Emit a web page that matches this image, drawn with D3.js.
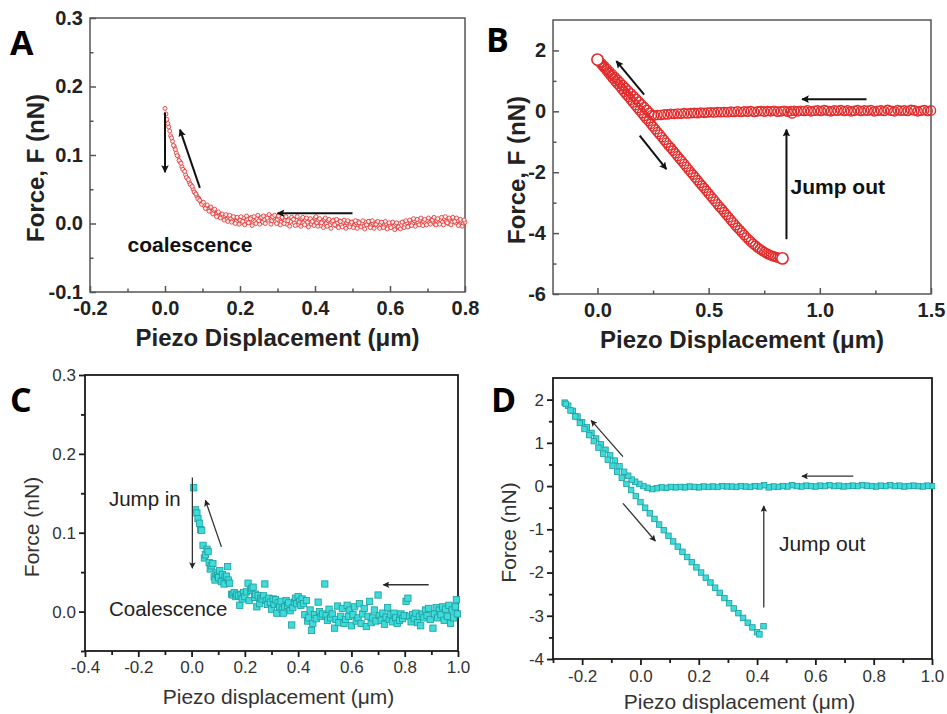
<!DOCTYPE html>
<html>
<head>
<meta charset="utf-8">
<script src="https://cdn.jsdelivr.net/npm/d3@7"></script>
<style>
body { margin: 0; background: #fff; }
svg { display: block; }
</style>
</head>
<body>
<svg id="chart" width="947" height="714"></svg>
<script>
// ---- panel A: approach curve (red circles), [displacement um, force nN]
const curveA = [
[0.000,0.168],[0.005,0.152],[0.010,0.141],[0.015,0.128],[0.020,0.120],[0.025,0.112],[0.030,0.103],[0.035,0.098],
[0.040,0.090],[0.045,0.083],[0.050,0.078],[0.055,0.071],[0.060,0.066],[0.065,0.060],[0.070,0.056],[0.075,0.050],
[0.080,0.045],[0.085,0.040],[0.090,0.037],[0.095,0.032],[0.100,0.030],[0.105,0.026],[0.110,0.024],[0.115,0.021],
[0.120,0.022],[0.125,0.017],[0.130,0.019],[0.135,0.014],[0.140,0.015],[0.145,0.011],[0.150,0.013],[0.155,0.009],
[0.160,0.011],[0.165,0.006],[0.170,0.010],[0.175,0.007],[0.180,0.004],[0.185,0.009],[0.190,0.003],[0.195,0.007],
[0.200,0.005],[0.205,0.001],[0.210,0.008],[0.215,0.004],[0.220,0.006],[0.225,0.002],[0.230,0.009],[0.235,0.005],
[0.240,0.003],[0.245,0.007],[0.250,0.004],[0.255,0.008],[0.260,0.002],[0.265,0.006],[0.270,0.010],[0.275,0.005],
[0.280,0.011],[0.285,0.004],[0.290,0.008],[0.295,0.003],[0.300,0.006],[0.305,0.009],[0.310,0.002],[0.315,0.007],
[0.320,0.004],[0.325,-0.001],[0.330,0.006],[0.335,0.003],[0.340,0.008],[0.345,0.001],[0.350,0.005],[0.355,-0.002],
[0.360,0.004],[0.365,0.007],[0.370,0.001],[0.375,0.005],[0.380,0.002],[0.385,0.006],[0.390,-0.001],[0.395,0.004],
[0.400,0.008],[0.405,0.001],[0.410,0.005],[0.415,-0.003],[0.420,0.003],[0.425,0.006],[0.430,0.000],[0.435,0.004],
[0.440,-0.002],[0.445,0.002],[0.450,0.005],[0.455,-0.003],[0.460,0.001],[0.465,0.004],[0.470,-0.002],[0.475,0.002],
[0.480,-0.004],[0.485,0.001],[0.490,0.003],[0.495,-0.001],[0.500,0.002],[0.505,-0.003],[0.510,0.001],[0.515,0.003],
[0.520,-0.002],[0.525,0.000],[0.530,-0.004],[0.535,0.002],[0.540,-0.001],[0.545,0.003],[0.550,-0.003],[0.555,0.000],
[0.560,-0.002],[0.565,0.002],[0.570,-0.004],[0.575,-0.001],[0.580,0.001],[0.585,-0.003],[0.590,0.000],[0.595,-0.005],
[0.600,-0.002],[0.605,0.001],[0.610,-0.004],[0.615,-0.001],[0.620,-0.006],[0.625,0.000],[0.630,-0.003],[0.635,0.002],
[0.640,-0.002],[0.645,0.001],[0.650,-0.004],[0.655,0.003],[0.660,0.000],[0.665,0.004],[0.670,-0.002],[0.675,0.002],
[0.680,0.005],[0.685,-0.001],[0.690,0.003],[0.695,0.000],[0.700,0.004],[0.705,0.001],[0.710,0.006],[0.715,0.002],
[0.720,-0.001],[0.725,0.004],[0.730,0.001],[0.735,0.005],[0.740,0.002],[0.745,0.007],[0.750,0.003],[0.755,0.000],
[0.760,0.005],[0.765,0.002],[0.770,0.006],[0.775,0.001],[0.780,0.004],[0.785,-0.001],[0.790,0.003],[0.795,0.000],
[0.800,0.002]
];
// in-between samples of the same sweep
const curveAmid = [
[0.0025,0.160],[0.0075,0.146],[0.0125,0.135],[0.0175,0.125],[0.0225,0.114],[0.0275,0.108],[0.0325,0.099],[0.0375,0.092],
[0.0425,0.088],[0.0475,0.079],[0.0525,0.076],[0.0575,0.067],[0.0625,0.064],[0.0675,0.057],[0.0725,0.054],[0.0775,0.046],
[0.0825,0.043],[0.0875,0.036],[0.0925,0.034],[0.0975,0.028],[0.1025,0.031],[0.1075,0.022],[0.1125,0.027],[0.1175,0.018],
[0.1225,0.024],[0.1275,0.014],[0.1325,0.021],[0.1375,0.010],[0.1425,0.017],[0.1475,0.008],[0.1525,0.014],[0.1575,0.005],
[0.1625,0.013],[0.1675,0.003],[0.1725,0.012],[0.1775,0.002],[0.1825,0.010],[0.1875,0.000],[0.1925,0.009],[0.1975,-0.001],
[0.2025,0.010],[0.2075,0.003],[0.2125,-0.002],[0.2175,0.011],[0.2225,0.001],[0.2275,0.007],[0.2325,-0.003],[0.2375,0.010],
[0.2425,0.000],[0.2475,0.012],[0.2525,-0.001],[0.2575,0.009],[0.2625,0.011],[0.2675,0.000],[0.2725,0.008],[0.2775,0.013],
[0.2825,-0.001],[0.2875,0.010],[0.2925,0.012],[0.2975,0.000],[0.3025,0.011],[0.3075,-0.002],[0.3125,0.009],[0.3175,0.000],
[0.3225,0.010],[0.3275,0.004],[0.3325,-0.004],[0.3375,0.009],[0.3425,0.006],[0.3475,-0.003],[0.3525,0.010],[0.3575,0.002],
[0.3625,-0.004],[0.3675,0.009],[0.3725,-0.002],[0.3775,0.008],[0.3825,-0.005],[0.3875,0.007],[0.3925,0.003],[0.3975,-0.003],
[0.4025,0.010],[0.4075,-0.004],[0.4125,0.007],[0.4175,0.001],[0.4225,-0.006],[0.4275,0.008],[0.4325,-0.004],[0.4375,0.006],
[0.4425,-0.007],[0.4475,0.004],[0.4525,-0.002],[0.4575,0.006],[0.4625,-0.006],[0.4675,0.003],[0.4725,-0.005],[0.4775,0.005],
[0.4825,-0.007],[0.4875,0.004],[0.4925,-0.005],[0.4975,0.002],[0.5025,-0.006],[0.5075,0.004],[0.5125,-0.007],[0.5175,0.001],
[0.5225,-0.005],[0.5275,0.004],[0.5325,-0.008],[0.5375,-0.002],[0.5425,0.003],[0.5475,-0.006],[0.5525,0.004],[0.5575,-0.007],
[0.5625,-0.001],[0.5675,0.003],[0.5725,-0.007],[0.5775,0.002],[0.5825,-0.006],[0.5875,0.003],[0.5925,-0.008],[0.5975,0.001],
[0.6025,-0.006],[0.6075,0.002],[0.6125,-0.009],[0.6175,0.001],[0.6225,-0.005],[0.6275,-0.008],[0.6325,0.002],[0.6375,-0.006],
[0.6425,0.004],[0.6475,-0.005],[0.6525,0.005],[0.6575,-0.003],[0.6625,0.007],[0.6675,-0.004],[0.6725,0.006],[0.6775,-0.002],
[0.6825,0.008],[0.6875,-0.003],[0.6925,0.006],[0.6975,-0.002],[0.7025,0.008],[0.7075,-0.001],[0.7125,0.005],[0.7175,0.009],
[0.7225,-0.002],[0.7275,0.007],[0.7325,-0.001],[0.7375,0.009],[0.7425,-0.002],[0.7475,0.010],[0.7525,0.001],[0.7575,0.008],
[0.7625,-0.002],[0.7675,0.009],[0.7725,0.003],[0.7775,0.008],[0.7825,-0.003],[0.7875,0.006],[0.7925,-0.004],[0.7975,0.005]
];

// ---- panel B: approach, loading and retraction branches
const approachB = [
[1.500,0.03],[1.485,0.01],[1.470,0.04],[1.455,0.02],[1.440,0.00],[1.425,0.03],[1.410,0.05],[1.395,0.01],
[1.380,0.03],[1.365,0.02],[1.350,0.04],[1.335,0.00],[1.320,0.02],[1.305,0.05],[1.290,0.01],[1.275,0.03],
[1.260,0.02],[1.245,0.00],[1.230,0.04],[1.215,0.02],[1.200,0.03],[1.185,0.01],[1.170,0.04],[1.155,0.02],
[1.140,0.00],[1.125,0.03],[1.110,0.01],[1.095,0.04],[1.080,0.02],[1.065,0.03],[1.050,0.00],[1.035,0.02],
[1.020,0.04],[1.005,0.01],[0.990,0.03],[0.975,0.02],[0.960,0.00],[0.945,0.03],[0.930,0.01],[0.915,0.02],
[0.900,0.00],[0.885,0.02],[0.875,-0.07],[0.870,0.01],[0.855,-0.01],[0.840,0.02],[0.825,0.00],[0.810,-0.01],
[0.795,0.02],[0.780,0.00],[0.765,0.01],[0.750,-0.01],[0.735,0.01],[0.720,0.00],[0.705,-0.02],[0.690,0.01],
[0.675,-0.01],[0.660,0.00],[0.645,-0.02],[0.630,0.00],[0.615,-0.02],[0.600,-0.01],[0.585,-0.03],[0.570,-0.02],
[0.555,-0.03],[0.540,-0.02],[0.525,-0.04],[0.510,-0.03],[0.495,-0.04],[0.480,-0.05],[0.465,-0.04],[0.450,-0.06],
[0.435,-0.05],[0.420,-0.06],[0.405,-0.07],[0.390,-0.06],[0.375,-0.08],[0.360,-0.07],[0.345,-0.09],[0.330,-0.08],
[0.315,-0.10],[0.300,-0.10],[0.285,-0.12],[0.270,-0.12],[0.255,-0.14],[0.245,-0.12]
];
const loadB = [
[0.234,-0.04],[0.222,0.05],[0.210,0.14],[0.198,0.23],[0.186,0.32],[0.174,0.41],[0.162,0.50],[0.150,0.59],
[0.138,0.68],[0.126,0.77],[0.114,0.86],[0.102,0.95],[0.090,1.04],[0.078,1.13],[0.066,1.22],[0.054,1.31],
[0.042,1.40],[0.030,1.49],[0.018,1.58],[0.006,1.67]
];
const retractB = [
[0.00,1.70],[0.01,1.61],[0.02,1.52],[0.03,1.44],[0.04,1.35],[0.05,1.26],[0.06,1.17],[0.07,1.08],
[0.08,0.99],[0.09,0.91],[0.10,0.82],[0.11,0.73],[0.12,0.64],[0.13,0.55],[0.14,0.47],[0.15,0.38],
[0.16,0.29],[0.17,0.20],[0.18,0.11],[0.19,0.03],[0.20,-0.06],[0.21,-0.15],[0.22,-0.24],[0.23,-0.32],
[0.24,-0.41],[0.25,-0.50],[0.26,-0.59],[0.27,-0.68],[0.28,-0.76],[0.29,-0.85],[0.30,-0.94],[0.31,-1.03],
[0.32,-1.12],[0.33,-1.20],[0.34,-1.29],[0.35,-1.38],[0.36,-1.47],[0.37,-1.56],[0.38,-1.64],[0.39,-1.73],
[0.40,-1.82],[0.41,-1.91],[0.42,-2.00],[0.43,-2.08],[0.44,-2.17],[0.45,-2.26],[0.46,-2.35],[0.47,-2.44],
[0.48,-2.52],[0.49,-2.61],[0.50,-2.70],[0.51,-2.79],[0.52,-2.87],[0.53,-2.96],[0.54,-3.05],[0.55,-3.14],
[0.56,-3.22],[0.57,-3.31],[0.58,-3.40],[0.59,-3.48],[0.60,-3.57],[0.61,-3.65],[0.62,-3.74],[0.63,-3.82],
[0.64,-3.90],[0.65,-3.98],[0.66,-4.06],[0.67,-4.14],[0.68,-4.21],[0.69,-4.28],[0.70,-4.35],[0.71,-4.41],
[0.72,-4.47],[0.73,-4.52],[0.74,-4.57],[0.75,-4.62],[0.76,-4.66],[0.77,-4.70],[0.78,-4.73],[0.79,-4.76],
[0.80,-4.78],[0.81,-4.80],[0.82,-4.82],[0.832,-4.83]
];
// first and last points of the cycle, drawn a bit larger
const endsB = [[0.00,1.70],[0.832,-4.83]];

// ---- panel C: approach scatter (cyan squares)
const curveC = [
[0.008,0.157],[0.015,0.129],[0.020,0.125],[0.024,0.118],[0.030,0.112],[0.034,0.104],[0.038,0.103],[0.043,0.084],
[0.048,0.068],[0.052,0.072],[0.058,0.079],[0.062,0.076],[0.066,0.062],[0.070,0.054],[0.074,0.058],[0.080,0.061],
[0.085,0.044],[0.088,0.040],[0.092,0.049],[0.098,0.046],[0.102,0.043],[0.106,0.052],[0.112,0.038],[0.116,0.047],
[0.122,0.035],[0.126,0.044],[0.131,0.045],[0.135,0.057],[0.138,0.040],[0.143,0.036],[0.150,0.022],[0.155,0.021],
[0.160,0.024],[0.166,0.019],[0.170,0.022],[0.176,0.020],[0.181,0.008],[0.186,0.021],[0.190,0.016],[0.195,0.024],
[0.200,0.019],[0.206,0.025],[0.212,0.036],[0.216,0.014],[0.221,0.027],[0.226,0.029],[0.231,0.031],[0.236,0.018],
[0.240,0.022],[0.245,0.006],[0.250,0.020],[0.256,0.010],[0.260,0.017],[0.265,0.016],[0.270,0.020],[0.275,0.035],
[0.280,0.014],[0.285,0.009],[0.290,0.017],[0.296,0.012],[0.300,0.003],[0.306,0.016],[0.310,0.009],[0.315,0.015],
[0.320,-0.002],[0.325,0.011],[0.330,0.006],[0.336,0.013],[0.340,0.003],[0.344,-0.002],[0.350,0.006],[0.355,0.014],
[0.360,0.008],[0.365,0.011],[0.370,0.001],[0.376,-0.017],[0.380,0.005],[0.386,0.012],[0.390,0.017],[0.395,0.010],
[0.400,0.019],[0.405,0.013],[0.410,0.008],[0.415,0.016],[0.420,0.010],[0.425,-0.004],[0.431,0.014],[0.436,-0.012],
[0.440,-0.008],[0.445,0.002],[0.450,-0.024],[0.455,-0.015],[0.462,-0.004],[0.468,-0.009],[0.475,0.012],[0.480,0.000],
[0.486,-0.006],[0.492,-0.003],[0.500,0.035],[0.505,-0.005],[0.510,-0.011],[0.516,0.003],[0.522,-0.008],[0.528,-0.003],
[0.537,-0.021],[0.542,-0.010],[0.548,0.007],[0.553,-0.014],[0.560,-0.006],[0.566,0.004],[0.572,-0.015],[0.578,-0.010],
[0.584,0.008],[0.590,-0.006],[0.594,0.002],[0.600,-0.018],[0.606,-0.004],[0.612,0.006],[0.618,-0.012],[0.625,-0.008],
[0.630,0.010],[0.636,-0.015],[0.642,-0.003],[0.648,0.004],[0.656,-0.019],[0.662,-0.006],[0.668,0.013],[0.674,-0.014],
[0.680,-0.008],[0.686,0.002],[0.692,-0.012],[0.700,0.021],[0.705,-0.005],[0.712,-0.011],[0.718,-0.002],[0.724,-0.016],
[0.730,-0.007],[0.736,0.005],[0.742,-0.010],[0.748,-0.004],[0.754,-0.013],[0.760,-0.002],[0.766,-0.008],[0.772,-0.015],
[0.781,-0.011],[0.786,-0.003],[0.792,-0.009],[0.798,-0.005],[0.805,0.013],[0.812,0.017],[0.818,-0.006],[0.824,-0.013],
[0.830,-0.004],[0.836,-0.009],[0.842,-0.002],[0.848,-0.014],[0.855,-0.006],[0.860,-0.018],[0.866,-0.003],[0.872,-0.008],
[0.878,0.002],[0.884,-0.005],[0.890,0.004],[0.896,-0.010],[0.906,-0.021],[0.912,-0.003],[0.918,0.005],[0.924,-0.008],
[0.930,0.002],[0.936,-0.004],[0.942,0.006],[0.948,-0.011],[0.954,0.003],[0.960,-0.006],[0.966,0.008],[0.972,-0.015],
[0.978,0.002],[0.984,-0.008],[0.990,0.006],[0.994,0.015],[0.998,-0.003]
];

// ---- panel D: approach, loading and retraction branches
const approachD = [
[1.000,0.00],[0.984,0.01],[0.968,-0.01],[0.952,0.00],[0.936,0.01],[0.920,0.00],[0.904,-0.01],[0.888,0.01],
[0.872,0.00],[0.856,0.02],[0.840,0.00],[0.824,0.01],[0.808,-0.01],[0.792,0.00],[0.776,0.01],[0.760,0.02],
[0.744,0.00],[0.728,0.01],[0.712,0.00],[0.696,-0.01],[0.680,0.01],[0.664,0.00],[0.648,0.02],[0.632,0.00],
[0.616,0.01],[0.600,-0.01],[0.584,0.00],[0.568,0.01],[0.552,-0.01],[0.536,0.00],[0.520,0.02],[0.504,-0.01],
[0.488,0.00],[0.472,-0.02],[0.456,-0.01],[0.440,-0.03],[0.424,0.02],[0.408,-0.01],[0.392,0.00],[0.376,-0.02],
[0.360,-0.01],[0.344,0.00],[0.328,-0.02],[0.312,-0.01],[0.296,-0.01],[0.280,0.00],[0.264,-0.02],[0.248,-0.01],
[0.232,-0.02],[0.216,-0.01],[0.200,-0.03],[0.184,-0.02],[0.168,-0.01],[0.152,-0.03],[0.136,-0.02],[0.120,-0.03],
[0.104,-0.02],[0.088,-0.04],[0.072,-0.03],[0.056,-0.05],[0.040,-0.07],[0.024,-0.04],[0.010,0.00]
];
const loadD = [
[-0.004,0.05],[-0.018,0.10],[-0.030,0.15],[-0.042,0.24],[-0.056,0.33],[-0.072,0.46],[-0.088,0.59],[-0.104,0.71],
[-0.120,0.84],[-0.136,0.97],[-0.152,1.10],[-0.168,1.23],[-0.184,1.36],[-0.200,1.48],[-0.216,1.61],[-0.232,1.74],
[-0.248,1.86],[-0.260,1.93]
];
const retractD = [
[-0.256,1.90],[-0.240,1.75],[-0.224,1.61],[-0.208,1.46],[-0.192,1.32],[-0.176,1.18],[-0.160,1.04],[-0.144,0.89],
[-0.128,0.75],[-0.112,0.61],[-0.096,0.47],[-0.080,0.33],[-0.064,0.19],[-0.048,0.05],[-0.032,-0.09],[-0.016,-0.23],
[0.000,-0.37],[0.016,-0.50],[0.032,-0.63],[0.048,-0.76],[0.064,-0.89],[0.080,-1.02],[0.096,-1.15],[0.112,-1.28],
[0.128,-1.40],[0.144,-1.52],[0.160,-1.64],[0.176,-1.76],[0.192,-1.88],[0.208,-2.00],[0.224,-2.12],[0.240,-2.23],
[0.256,-2.35],[0.272,-2.47],[0.288,-2.59],[0.304,-2.71],[0.320,-2.83],[0.336,-2.94],[0.352,-3.05],[0.368,-3.16],
[0.384,-3.27],[0.400,-3.38],[0.408,-3.43],[0.422,-3.24]
];

// ---- ticks
const ticksAx = [-0.2, 0.0, 0.2, 0.4, 0.6, 0.8];
const minorAx = [-0.1, 0.1, 0.3, 0.5, 0.7];
const ticksAy = [-0.1, 0.0, 0.1, 0.2, 0.3];
const minorAy = [-0.05, 0.05, 0.15, 0.25];
const ticksBx = [0.0, 0.5, 1.0, 1.5];
const minorBx = [0.25, 0.75, 1.25];
const ticksBy = [-6, -4, -2, 0, 2];
const minorBy = [-5, -3, -1, 1];
const ticksCx = [-0.4, -0.2, 0.0, 0.2, 0.4, 0.6, 0.8, 1.0];
const minorCx = [-0.3, -0.1, 0.1, 0.3, 0.5, 0.7, 0.9];
const ticksCy = [0.0, 0.1, 0.2, 0.3];
const minorCy = [-0.05, 0.05, 0.15, 0.25];
const ticksDx = [-0.2, 0.0, 0.2, 0.4, 0.6, 0.8, 1.0];
const minorDx = [-0.3, -0.1, 0.1, 0.3, 0.5, 0.7, 0.9];
const ticksDy = [-4, -3, -2, -1, 0, 1, 2];
const minorDy = [-3.5, -2.5, -1.5, -0.5, 0.5, 1.5];

const fmt1 = d => d.toFixed(1);
const fmt0 = d => d.toFixed(0);

const svg = d3.select("#chart");

const defs = svg.append("defs");
defs.append("marker").attr("id", "headBold")
    .attr("viewBox", "0 0 10 10").attr("refX", 9).attr("refY", 5)
    .attr("markerWidth", 5.5).attr("markerHeight", 3.8).attr("orient", "auto")
    .attr("markerUnits", "strokeWidth")
    .append("path").attr("d", "M0,0 L10,5 L0,10 L2,5 z").attr("fill", "#111");
defs.append("marker").attr("id", "headThin")
    .attr("viewBox", "0 0 10 10").attr("refX", 9).attr("refY", 5)
    .attr("markerWidth", 7).attr("markerHeight", 5).attr("orient", "auto")
    .attr("markerUnits", "strokeWidth")
    .append("path").attr("d", "M0,0 L10,5 L0,10 L2,5 z").attr("fill", "#222");

const font = "'Liberation Sans', Arial, sans-serif";

function drawPanel(p) {
    const x = d3.scaleLinear().domain(p.xDomain).range([p.box.left, p.box.right]);
    const y = d3.scaleLinear().domain(p.yDomain).range([p.box.bottom, p.box.top]);
    const g = svg.append("g");
    const major = p.inward ? -6 : 6;
    const minor = p.inward ? -3.5 : 4;
    const weight = p.bold ? "bold" : "normal";

    // frame
    g.append("rect")
        .attr("x", p.box.left).attr("y", p.box.top)
        .attr("width", p.box.right - p.box.left)
        .attr("height", p.box.bottom - p.box.top)
        .attr("fill", "none")
        .attr("stroke", p.frameColor)
        .attr("stroke-width", p.frameWidth);

    // data
    p.series.forEach(s => {
        const sg = g.append("g")
            .attr("fill", s.fill)
            .attr("stroke", s.stroke)
            .attr("stroke-width", s.strokeWidth);
        if (s.shape === "circle") {
            sg.selectAll("circle").data(s.data).join("circle")
                .attr("cx", d => x(d[0]))
                .attr("cy", d => y(d[1]))
                .attr("r", s.size);
        } else {
            sg.selectAll("rect").data(s.data).join("rect")
                .attr("x", d => x(d[0]) - s.size / 2)
                .attr("y", d => y(d[1]) - s.size / 2)
                .attr("width", s.size)
                .attr("height", s.size);
        }
    });

    const styleAxis = ax => {
        ax.select(".domain").remove();
        ax.selectAll(".tick line").attr("stroke", p.frameColor).attr("stroke-width", p.frameWidth);
        ax.selectAll(".tick text")
            .attr("font-family", font)
            .attr("font-size", p.tickFont)
            .attr("font-weight", weight)
            .attr("fill", p.textColor);
    };

    g.append("g")
        .attr("transform", `translate(0,${p.box.bottom})`)
        .call(d3.axisBottom(x).tickValues(p.xTicks).tickFormat(p.xFormat)
            .tickSize(major).tickPadding(p.xPad))
        .call(styleAxis);
    g.append("g")
        .attr("transform", `translate(0,${p.box.bottom})`)
        .call(d3.axisBottom(x).tickValues(p.xMinor).tickFormat("").tickSize(minor))
        .call(styleAxis);
    g.append("g")
        .attr("transform", `translate(${p.box.left},0)`)
        .call(d3.axisLeft(y).tickValues(p.yTicks).tickFormat(p.yFormat)
            .tickSize(major).tickPadding(p.yPad))
        .call(styleAxis);
    g.append("g")
        .attr("transform", `translate(${p.box.left},0)`)
        .call(d3.axisLeft(y).tickValues(p.yMinor).tickFormat("").tickSize(minor))
        .call(styleAxis);

    // axis titles
    g.append("text")
        .attr("x", (p.box.left + p.box.right) / 2 + p.xTitleDx)
        .attr("y", p.xTitleY)
        .attr("text-anchor", "middle")
        .attr("font-family", font)
        .attr("font-size", p.titleFont)
        .attr("font-weight", weight)
        .attr("fill", p.textColor)
        .text(p.xTitle);
    g.append("text")
        .attr("transform", `translate(${p.yTitleX},${(p.box.top + p.box.bottom) / 2 + p.yTitleDy}) rotate(-90)`)
        .attr("text-anchor", "middle")
        .attr("font-family", font)
        .attr("font-size", p.titleFont)
        .attr("font-weight", weight)
        .attr("fill", p.textColor)
        .text(p.yTitle);

    // panel letter
    g.append("text")
        .attr("x", p.letterX).attr("y", p.letterY)
        .attr("font-family", "'Open Sans', 'Liberation Sans', sans-serif")
        .attr("font-size", 34)
        .attr("font-weight", "bold")
        .attr("fill", "#000")
        .text(p.letter);

    // arrows, in data coordinates [x1, y1, x2, y2]
    p.arrows.forEach(a => {
        g.append("line")
            .attr("x1", x(a[0])).attr("y1", y(a[1]))
            .attr("x2", x(a[2])).attr("y2", y(a[3]))
            .attr("stroke", p.bold ? "#111" : "#333")
            .attr("stroke-width", p.bold ? 2 : 1.3)
            .attr("marker-end", p.bold ? "url(#headBold)" : "url(#headThin)");
    });

    // notes
    p.notes.forEach(n => {
        g.append("text")
            .attr("x", x(n.x)).attr("y", y(n.y))
            .attr("font-family", font)
            .attr("font-size", n.size)
            .attr("font-weight", weight)
            .attr("fill", p.bold ? "#111" : "#222")
            .text(n.text);
    });
}

const redRing = { shape: "circle", fill: "none", stroke: "#e32a2a" };
const cyanBox = { shape: "square", fill: "#3fdada", stroke: "#1b9e9e" };

drawPanel({
    letter: "A", letterX: 10, letterY: 55,
    box: { left: 90, right: 465, top: 18, bottom: 292 },
    xDomain: [-0.2, 0.8], yDomain: [-0.1, 0.3],
    xTicks: ticksAx, xMinor: minorAx, yTicks: ticksAy, yMinor: minorAy,
    xFormat: fmt1, yFormat: fmt1, inward: true, xPad: 9, yPad: 7,
    frameColor: "#555", frameWidth: 1.5, bold: true, textColor: "#222",
    tickFont: 20, titleFont: 24,
    xTitle: "Piezo Displacement (\u03bcm)", xTitleDx: 0, xTitleY: 346,
    yTitle: "Force, F (nN)", yTitleX: 44, yTitleDy: 13,
    series: [
        { ...redRing, fill: "#fdecec", strokeWidth: 0.8, size: 2, data: curveA },
        { ...redRing, fill: "#fdecec", strokeWidth: 0.8, size: 2, data: curveAmid }
    ],
    arrows: [[0.0, 0.162, 0.0, 0.075], [0.093, 0.052, 0.04, 0.137], [0.5, 0.015, 0.3, 0.015]],
    notes: [{ x: -0.1, y: -0.042, text: "coalescence", size: 21 }]
});

drawPanel({
    letter: "B", letterX: 486, letterY: 52,
    box: { left: 553, right: 931, top: 20, bottom: 294 },
    xDomain: [-0.2, 1.5], yDomain: [-6, 3],
    xTicks: ticksBx, xMinor: minorBx, yTicks: ticksBy, yMinor: minorBy,
    xFormat: fmt1, yFormat: fmt0, inward: true, xPad: 9, yPad: 7,
    frameColor: "#555", frameWidth: 1.5, bold: true, textColor: "#222",
    tickFont: 20, titleFont: 24,
    xTitle: "Piezo Displacement (\u03bcm)", xTitleDx: 0, xTitleY: 348,
    yTitle: "Force, F (nN)", yTitleX: 525, yTitleDy: 13,
    series: [
        { ...redRing, strokeWidth: 1.4, size: 4.6, data: approachB },
        { ...redRing, strokeWidth: 1.4, size: 4.6, data: loadB },
        { ...redRing, strokeWidth: 1.4, size: 4.6, data: retractB },
        { ...redRing, fill: "#fff", strokeWidth: 1.6, size: 5.6, data: endsB }
    ],
    arrows: [[0.21, 0.55, 0.085, 1.65], [0.19, -0.8, 0.31, -1.9], [1.21, 0.4, 0.92, 0.4], [0.85, -4.2, 0.85, -0.6]],
    notes: [{ x: 0.868, y: -2.7, text: "Jump out", size: 21 }]
});

drawPanel({
    letter: "C", letterX: 10, letterY: 412,
    box: { left: 85, right: 458, top: 375, bottom: 651 },
    xDomain: [-0.4, 1.0], yDomain: [-0.05, 0.3],
    xTicks: ticksCx, xMinor: minorCx, yTicks: ticksCy, yMinor: minorCy,
    xFormat: fmt1, yFormat: fmt1, inward: false, xPad: 4, yPad: 3,
    frameColor: "#1a1a1a", frameWidth: 1.8, bold: false, textColor: "#333",
    tickFont: 17, titleFont: 21,
    xTitle: "Piezo displacement (\u03bcm)", xTitleDx: 7, xTitleY: 704,
    yTitle: "Force (nN)", yTitleX: 39, yTitleDy: 14,
    series: [{ ...cyanBox, strokeWidth: 0.8, size: 6.3, data: curveC }],
    arrows: [[0.003, 0.17, 0.003, 0.055], [0.112, 0.082, 0.052, 0.141], [0.89, 0.034, 0.72, 0.034]],
    notes: [{ x: -0.31, y: 0.134, text: "Jump in", size: 20.5 },
            { x: -0.31, y: -0.005, text: "Coalescence", size: 20.5 }]
});

drawPanel({
    letter: "D", letterX: 491, letterY: 412,
    box: { left: 553, right: 932, top: 378, bottom: 659 },
    xDomain: [-0.3, 1.0], yDomain: [-4, 2.5],
    xTicks: ticksDx, xMinor: minorDx, yTicks: ticksDy, yMinor: minorDy,
    xFormat: fmt1, yFormat: fmt0, inward: false, xPad: 5, yPad: 3,
    frameColor: "#1a1a1a", frameWidth: 1.8, bold: false, textColor: "#333",
    tickFont: 17, titleFont: 21,
    xTitle: "Piezo displacement (\u03bcm)", xTitleDx: -3, xTitleY: 709,
    yTitle: "Force (nN)", yTitleX: 516, yTitleDy: 14,
    series: [
        { ...cyanBox, strokeWidth: 0.8, size: 5.5, data: approachD },
        { ...cyanBox, strokeWidth: 0.8, size: 5.5, data: loadD },
        { ...cyanBox, strokeWidth: 0.8, size: 5.5, data: retractD }
    ],
    arrows: [[-0.06, 0.68, -0.169, 1.52], [-0.06, -0.40, 0.051, -1.27], [0.73, 0.23, 0.554, 0.23], [0.423, -2.81, 0.423, -0.46]],
    notes: [{ x: 0.475, y: -1.5, text: "Jump out", size: 21 }]
});
</script>
</body>
</html>
